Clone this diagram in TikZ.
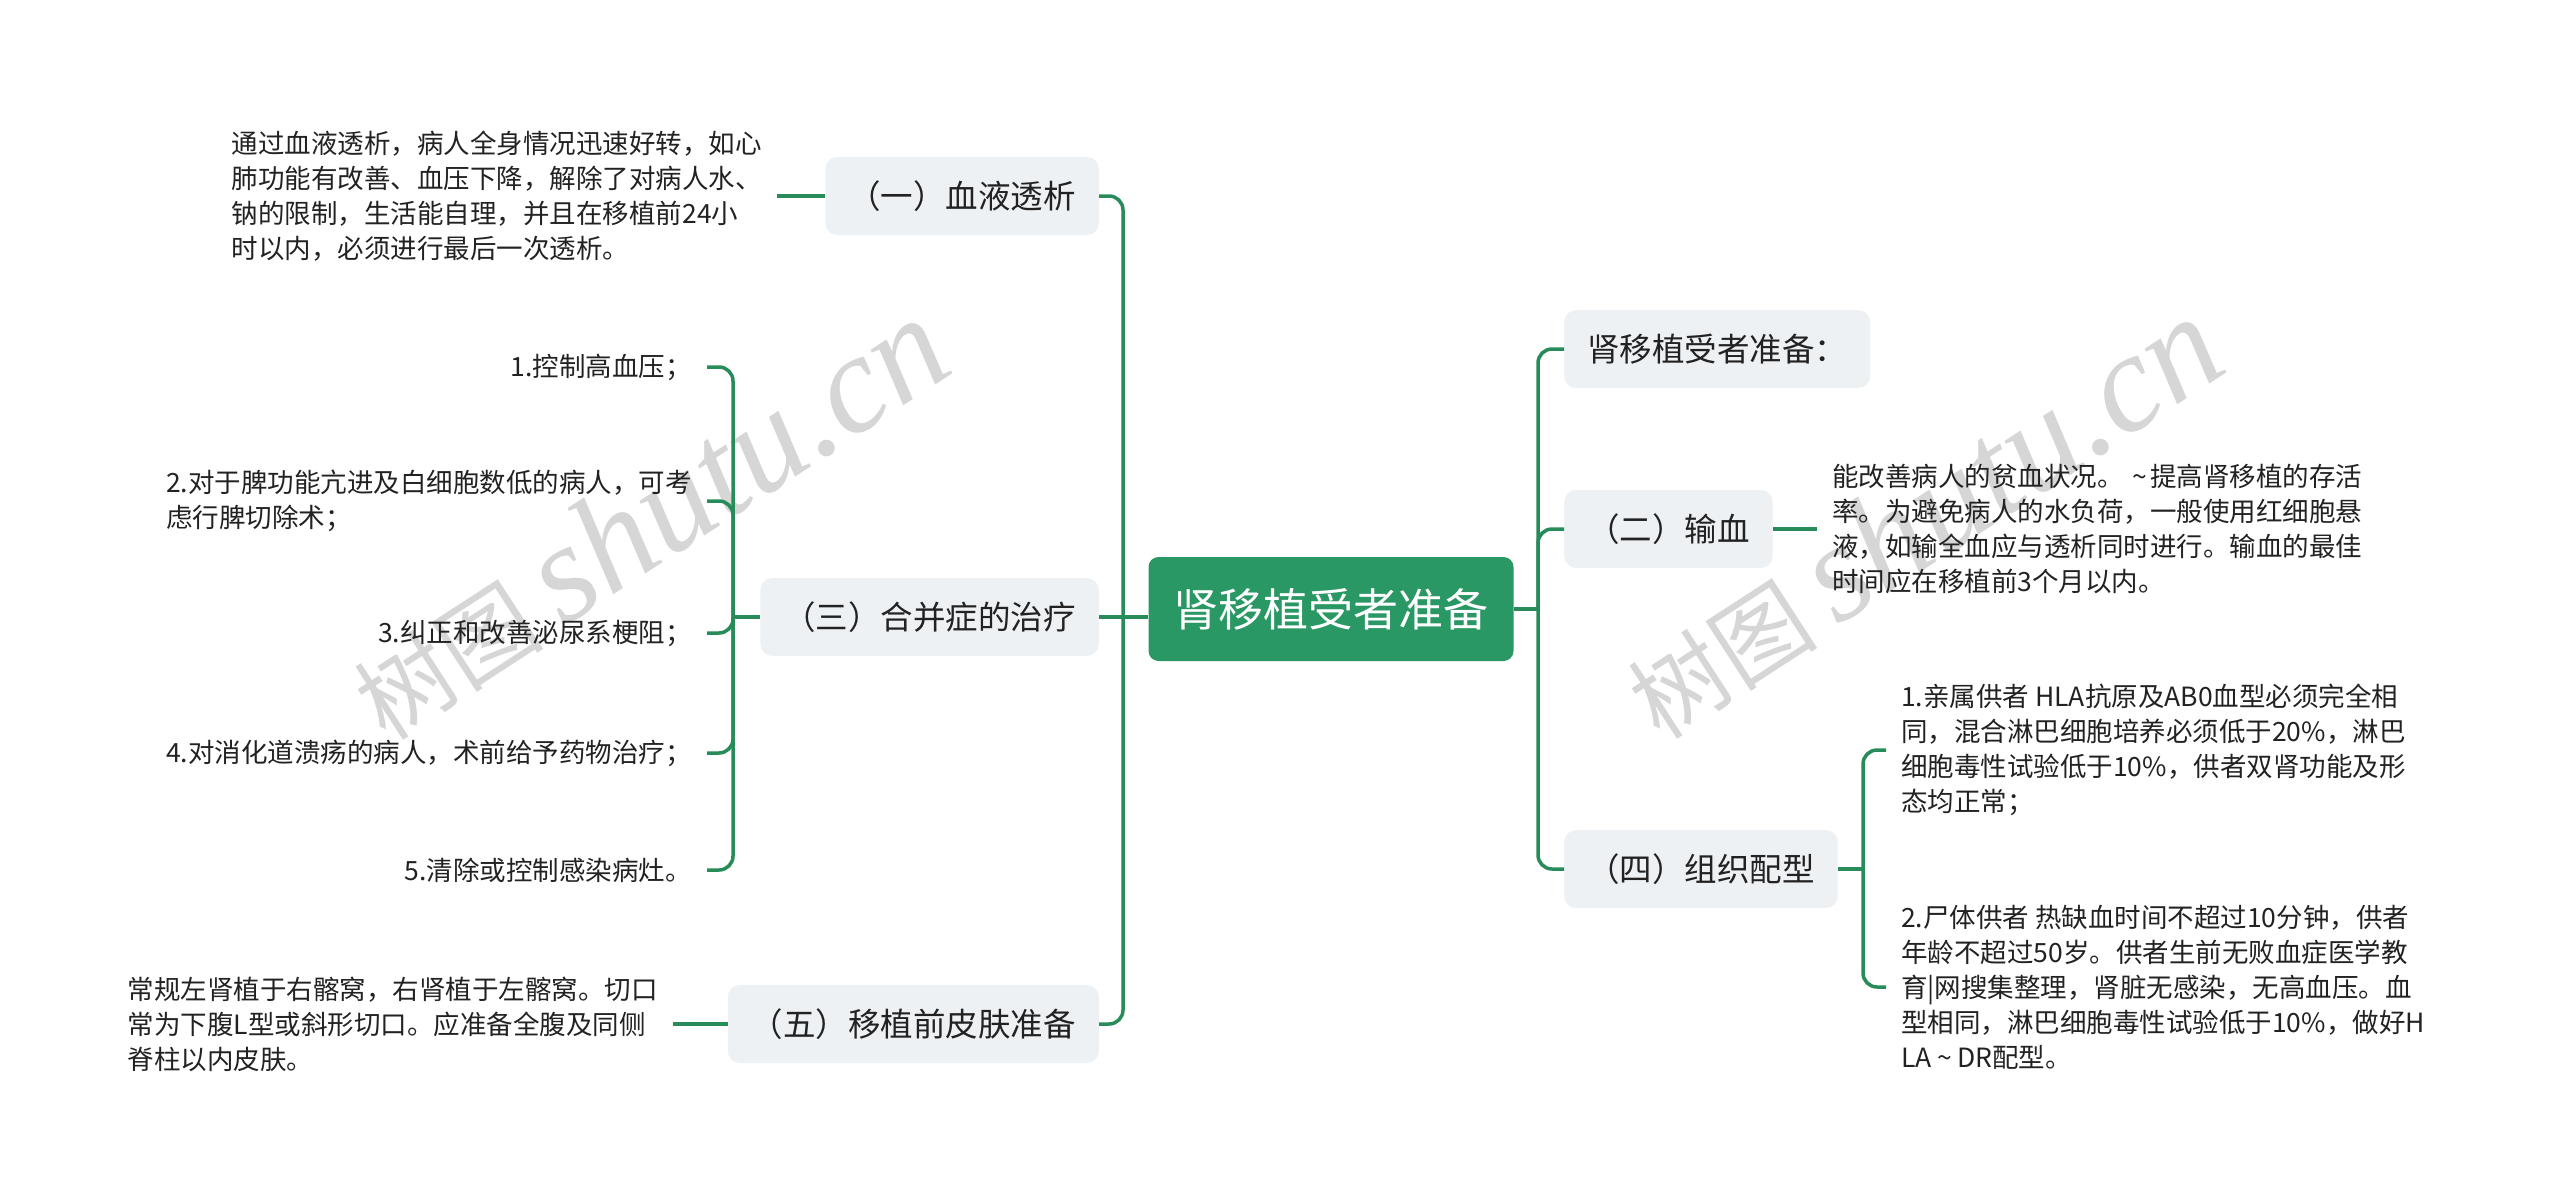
\documentclass[tikz,border=0pt]{standalone}
\usepackage{fontspec}
\setmainfont{Noto Sans CJK SC}
\newfontfamily\wmlatin{Liberation Serif}
\definecolor{rootgreen}{RGB}{42,152,100}
\definecolor{linegreen}{RGB}{40,140,90}
\definecolor{boxgray}{RGB}{238,241,244}
\definecolor{txt}{RGB}{34,34,34}
\definecolor{wm}{RGB}{214,214,214}
\begin{document}
\begin{tikzpicture}[x=1pt,y=-1pt,
  rootbox/.style={fill=rootgreen, rounded corners=10pt, text=white, font=\fontsize{45}{54}\selectfont, minimum width=365pt, minimum height=104pt, inner sep=0pt},
  branchbox/.style={fill=boxgray, rounded corners=12pt, text=txt, font=\fontsize{32.5}{38}\selectfont, minimum height=78pt, inner xsep=23pt, inner ysep=0pt},
  leaftext/.style={text=txt, font=\fontsize{26.5}{35}\selectfont, inner xsep=15pt, inner ysep=0pt, align=left},
  conn/.style={draw=linegreen, line width=3.5pt},
  roundconn/.style={conn, rounded corners=14pt},
  wmark/.style={text=wm, rotate=33, inner sep=0pt}
]
\fill[white] (0,0) rectangle (2560,1202);
\useasboundingbox (0,0) rectangle (2560,1202);

% watermarks
\node[wmark] (wm1) at (648,519) {\fontsize{95}{95}\selectfont 树图 {\wmlatin\itshape\fontsize{140}{140}\selectfont shutu.cn}};
\node[wmark] (wm2) at (1922,518) {\fontsize{95}{95}\selectfont 树图 {\wmlatin\itshape\fontsize{140}{140}\selectfont shutu.cn}};

% main nodes
\node[rootbox] (root) at (1331,609) {肾移植受者准备};
\node[branchbox, anchor=east] (b1) at (1099,196) {（一）血液透析};
\node[branchbox, anchor=east] (b3) at (1099,617) {（三）合并症的治疗};
\node[branchbox, anchor=east] (b5) at (1099,1024) {（五）移植前皮肤准备};
\node[branchbox, anchor=west] (r0) at (1564,349) {肾移植受者准备：};
\node[branchbox, anchor=west] (r2) at (1564,529) {（二）输血};
\node[branchbox, anchor=west] (r4) at (1564,869) {（四）组织配型};

% leaves
\node[leaftext, anchor=east] (l1) at (777,196) {通过血液透析，病人全身情况迅速好转，如心\\肺功能有改善、血压下降，解除了对病人水、\\钠的限制，生活能自理，并且在移植前24小\\时以内，必须进行最后一次透析。};
\node[leaftext, anchor=east] (t1) at (707,367) {1.控制高血压；};
\node[leaftext, anchor=east] (t2) at (707,501) {2.对于脾功能亢进及白细胞数低的病人，可考\\虑行脾切除术；};
\node[leaftext, anchor=east] (t3) at (707,633) {3.纠正和改善泌尿系梗阻；};
\node[leaftext, anchor=east] (t4) at (707,753) {4.对消化道溃疡的病人，术前给予药物治疗；};
\node[leaftext, anchor=east] (t5) at (707,870) {5.清除或控制感染病灶。};
\node[leaftext, anchor=east] (l5) at (673,1024) {常规左肾植于右髂窝，右肾植于左髂窝。切口\\常为下腹L型或斜形切口。应准备全腹及同侧\\脊柱以内皮肤。};
\node[leaftext, anchor=west] (g1) at (1817,529) {能改善病人的贫血状况。\hspace{0.35em}\textasciitilde\hspace{0.1em}提高肾移植的存活\\率。为避免病人的水负荷，一般使用红细胞悬\\液，如输全血应与透析同时进行。输血的最佳\\时间应在移植前3个月以内。};
\node[leaftext, anchor=west] (f1) at (1886,750) {1.亲属供者 HLA抗原及AB0血型必须完全相\\同，混合淋巴细胞培养必须低于20\%，淋巴\\细胞毒性试验低于10\%，供者双肾功能及形\\态均正常；};
\node[leaftext, anchor=west] (f2) at (1886,987) {2.尸体供者 热缺血时间不超过10分钟，供者\\年龄不超过50岁。供者生前无败血症医学教\\育|网搜集整理，肾脏无感染，无高血压。血\\型相同，淋巴细胞毒性试验低于10\%，做好H\\LA\hspace{0.2em}\textasciitilde\hspace{0.2em}DR配型。};

% junctions
\coordinate (jl) at (1123,617);
\coordinate (jr) at (1538,609);
\coordinate (j3) at (733,617);
\coordinate (j4) at (1863,869);

% connectors
\draw[conn] (b3.east) -- (root.west |- b3.east);
\draw[roundconn] (b1.east) -| (jl);
\draw[roundconn] (b5.east) -| (jl);
\draw[conn] (root.east) -- (jr);
\draw[roundconn] (r0.west) -| (jr);
\draw[roundconn] (r2.west) -| (jr);
\draw[roundconn] (r4.west) -| (jr);
\draw[conn] (l1.east) -- (b1.west);
\draw[conn] (l5.east) -- (b5.west);
\draw[conn] (g1.west) -- (r2.east);
\draw[conn] (b3.west) -- (j3);
\foreach \t in {t1,t2,t3,t4,t5} {\draw[roundconn] (\t.east) -| (j3);}
\draw[conn] (r4.east) -- (j4);
\draw[roundconn] (f1.west) -| (j4);
\draw[roundconn] (f2.west) -| (j4);
\end{tikzpicture}
\end{document}
